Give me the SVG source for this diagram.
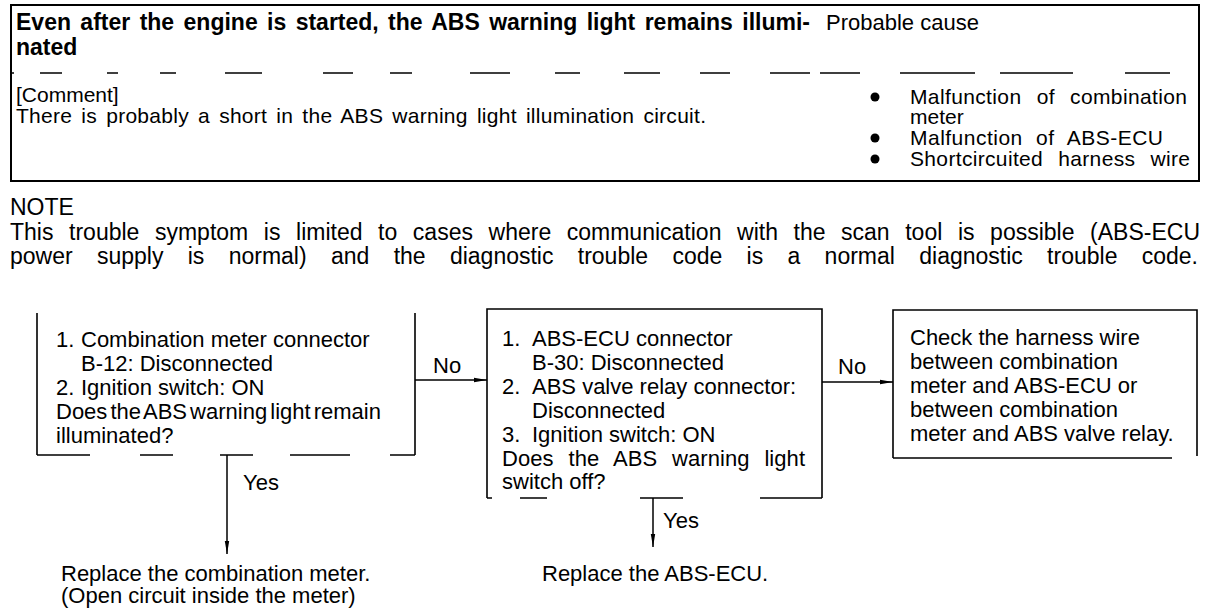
<svg xmlns="http://www.w3.org/2000/svg" width="1216" height="610" viewBox="0 0 1216 610">
<defs>
<style>
text{font-family:"Liberation Sans",Arial,Helvetica,sans-serif;font-size:22px;fill:#000}
.b{font-weight:bold;font-size:23px}
.p{font-size:23px}
.t{font-size:21px}
.frame{fill:none;stroke:#000;stroke-width:2}
.edge{fill:none;stroke:#000;stroke-width:1.6}
.conn{fill:none;stroke:#000;stroke-width:1.5}
.dot{fill:#000}
</style>
<marker id="ah" markerUnits="userSpaceOnUse" markerWidth="14" markerHeight="6" refX="13" refY="3" orient="auto"><path d="M0,0.8 L13,3 L0,5.2 z" fill="#000"/></marker>
</defs>
<rect width="1216" height="610" fill="#fff"/>

<g id="symptom-table">
<rect class="frame" x="11" y="5" width="1188" height="176"/>
<path class="edge" stroke-width="1.3" d="M11,73 H14 M40,73 H62 M107,73 H118 M160,73 H176 M225,73 H262 M323,73 H353 M390,73 H412 M470,73 H510 M555,73 H580 M624,73 H660 M700,73 H730 M770,73 H810 M820,73 H860 M900,73 H975 M1000,73 H1073 M1125,73 H1170"/>
<text class="b" x="16" y="30" word-spacing="3" textLength="794">Even after the engine is started, the ABS warning light remains illumi-</text>
<text class="b" x="16" y="55">nated</text>
<text x="826" y="30">Probable cause</text>
<text class="t" x="16" y="102">[Comment]</text>
<text class="t" x="16" y="123" word-spacing="3" textLength="690">There is probably a short in the ABS warning light illumination circuit.</text>
<circle class="dot" cx="875" cy="97" r="4.5"/>
<circle class="dot" cx="875" cy="138" r="4.5"/>
<circle class="dot" cx="875" cy="159" r="4.5"/>
<text class="t" x="910" y="104" word-spacing="9" textLength="277">Malfunction of combination</text>
<text class="t" x="910" y="124">meter</text>
<text class="t" x="910" y="145" word-spacing="7" textLength="253">Malfunction of ABS-ECU</text>
<text class="t" x="910" y="166" word-spacing="9" textLength="280">Shortcircuited harness wire</text>
</g>

<g id="note">
<text class="p" x="10" y="215">NOTE</text>
<text class="p" x="10" y="240" word-spacing="9.2" textLength="1190">This trouble symptom is limited to cases where communication with the scan tool is possible (ABS-ECU</text>
<text class="p" x="10" y="264" word-spacing="17.9" textLength="1188">power supply is normal) and the diagnostic trouble code is a normal diagnostic trouble code.</text>
</g>

<g id="check-meter">
<path class="edge" d="M37,313 V455 M415,313 V455 M37,455 H90 M140,455 H173 M220,455 H253 M290,455 H350 M390,455 H415"/>
<text x="56" y="347">1.</text>
<text x="81" y="347">Combination meter connector</text>
<text x="81" y="371">B-12: Disconnected</text>
<text x="56" y="395">2.</text>
<text x="81" y="395">Ignition switch: ON</text>
<text x="56" y="419" word-spacing="-3">Does the ABS warning light remain</text>
<text x="56" y="443">illuminated?</text>
</g>

<g id="check-ecu">
<path class="edge" d="M487,498 V309 H822 V498 M487,498 H492 M520,498 H547 M640,498 H683 M760,498 H822"/>
<text x="502" y="346">1.</text>
<text x="532" y="346">ABS-ECU connector</text>
<text x="532" y="370">B-30: Disconnected</text>
<text x="502" y="394">2.</text>
<text x="532" y="394">ABS valve relay connector:</text>
<text x="532" y="418">Disconnected</text>
<text x="502" y="442">3.</text>
<text x="532" y="442">Ignition switch: ON</text>
<text x="502" y="466" word-spacing="8.8" textLength="303">Does the ABS warning light</text>
<text x="502" y="489">switch off?</text>
</g>

<g id="check-harness">
<path class="edge" d="M893,458 V310 H1197 V456 M893,458 H1172"/>
<text x="910" y="345">Check the harness wire</text>
<text x="910" y="369">between combination</text>
<text x="910" y="393">meter and ABS-ECU or</text>
<text x="910" y="417">between combination</text>
<text x="910" y="441">meter and ABS valve relay.</text>
</g>

<g id="replace-meter">
<text x="61" y="581">Replace the combination meter.</text>
<text x="61" y="603">(Open circuit inside the meter)</text>
</g>

<g id="replace-ecu">
<text x="542" y="581">Replace the ABS-ECU.</text>
</g>

<g id="connectors">
<line class="conn" x1="415" y1="380" x2="487" y2="380" marker-end="url(#ah)"/>
<line class="conn" x1="822" y1="382" x2="893" y2="382" marker-end="url(#ah)"/>
<line class="conn" x1="227" y1="455" x2="227" y2="554" marker-end="url(#ah)"/>
<line class="conn" x1="653" y1="498" x2="653" y2="547" marker-end="url(#ah)"/>
<text x="433" y="373">No</text>
<text x="838" y="374">No</text>
<text x="243" y="490">Yes</text>
<text x="663" y="528">Yes</text>
</g>
</svg>
